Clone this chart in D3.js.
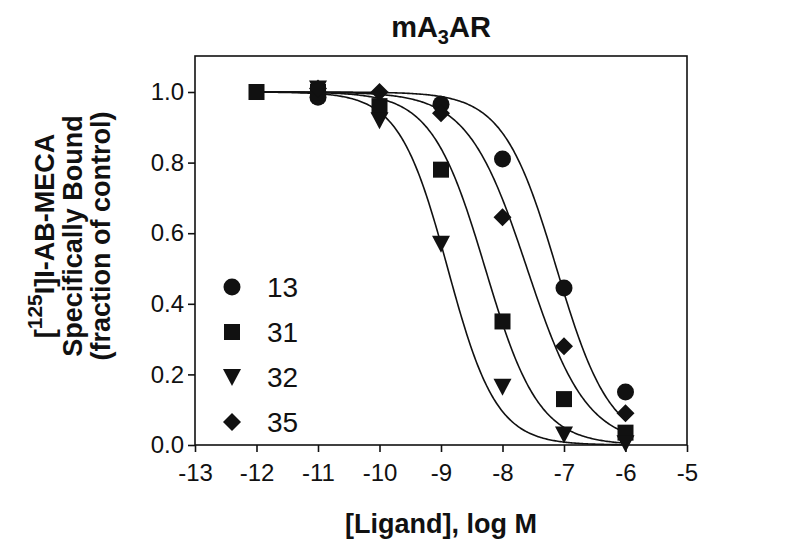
<!DOCTYPE html>
<html lang="en">
<head>
	<meta charset="UTF-8"/>
	<title>mA3AR binding</title>
	<script src="https://d3js.org/d3.v7.min.js"></script>
	<style>
		body { margin: 0; background: #fff; }
		svg text { font-family: "Liberation Sans", Arial, sans-serif; fill: #111; }
		.axis path, .axis line { stroke: #111; stroke-width: 1.6; }
		.axis text { font-size: 24px; }
	</style>
</head>
<body>
<script>
	// compounds in the legend
	var compounds = ["13", "31", "32", "35"];
	var shapeNames = ["circle", "square", "triangle", "diamond"];

	// x = log[ligand], y = fraction of control
	var logConc = [-12, -11, -10, -9, -8, -7, -6];
	var bound13 = [null, 0.985, null, 0.965, 0.81, 0.445, 0.15];
	var bound31 = [1.0, 1.0, 0.96, 0.78, 0.35, 0.13, 0.035];
	var bound32 = [null, 1.01, 0.92, 0.57, 0.165, 0.03, 0.005];
	var bound35 = [null, 1.01, 1.0, 0.94, 0.645, 0.28, 0.09];
	var allBound = [bound13, bound31, bound32, bound35];

	// fitted one-site curves (logIC50, hill slope)
	var logIC50 = [-7.12, -8.28, -8.89, -7.60];
	var hill = [1.0, 1.0, 1.1, 0.9];

	var xTicks = [-13, -12, -11, -10, -9, -8, -7, -6, -5];
	var yTicks = [0, 0.2, 0.4, 0.6, 0.8, 1.0];

	var w = 800, h = 550;
	var pLeft = 195, pRight = 687, pTop = 56, pBottom = 445;

	var svg = d3.select("body").append("svg").attr("width", w).attr("height", h);

	var xScale = d3.scaleLinear().domain([-13, -5]).range([pLeft, pRight]);
	var yScale = d3.scaleLinear().domain([0, 1.102]).range([pBottom, pTop]);

	// frame
	svg.append("rect")
		.attr("x", pLeft).attr("y", pTop)
		.attr("width", pRight - pLeft).attr("height", pBottom - pTop)
		.attr("fill", "none").attr("stroke", "#111").attr("stroke-width", 1.6);

	svg.append("g").attr("class", "axis")
		.attr("transform", "translate(0," + pBottom + ")")
		.call(d3.axisBottom(xScale).tickValues(xTicks).tickSize(7).tickPadding(12)
			.tickFormat(function(d){ return String(d); }))
		.select(".domain").remove();

	svg.append("g").attr("class", "axis")
		.attr("transform", "translate(" + pLeft + ",0)")
		.call(d3.axisLeft(yScale).tickValues(yTicks).tickSize(7).tickPadding(4).tickFormat(d3.format(".1f")))
		.select(".domain").remove();

	// curves
	var line = d3.line()
		.x(function(d){ return xScale(d[0]); })
		.y(function(d){ return yScale(d[1]); });

	compounds.forEach(function(c, i){
		var pts = d3.range(-12, -5.99, 0.02).map(function(x){
			return [x, 1 / (1 + Math.pow(10, hill[i] * (x - logIC50[i])))];
		});
		svg.append("path")
			.attr("d", line(pts))
			.attr("fill", "none")
			.attr("stroke", "#111")
			.attr("stroke-width", 1.6);
	});

	// marker drawing
	function marker(sel, name) {
		if (name === "circle") {
			sel.append("circle").attr("r", 8.5).attr("fill", "#111");
		} else if (name === "square") {
			sel.append("rect").attr("x", -8).attr("y", -8).attr("width", 16).attr("height", 16).attr("fill", "#111");
		} else if (name === "triangle") {
			sel.append("path").attr("d", "M-9,-8L9,-8L0,9Z").attr("fill", "#111");
		} else {
			sel.append("path").attr("d", "M0,-9L9,0L0,9L-9,0Z").attr("fill", "#111");
		}
	}

	// points
	compounds.forEach(function(c, i){
		var data = logConc.map(function(x, j){ return [x, allBound[i][j]]; })
			.filter(function(d){ return d[1] !== null; });
		svg.selectAll(".pt" + i).data(data).enter().append("g")
			.attr("class", "pt" + i)
			.attr("transform", function(d){
				return "translate(" + xScale(d[0]) + "," + yScale(d[1]) + ")";
			})
			.each(function(){ marker(d3.select(this), shapeNames[i]); });
	});

	// legend
	var legend = svg.append("g");
	compounds.forEach(function(c, i){
		var yy = 287 + i * 45;
		var g = legend.append("g").attr("transform", "translate(232," + yy + ")");
		marker(g, shapeNames[i]);
		legend.append("text")
			.attr("x", 267).attr("y", yy + 10)
			.attr("font-size", "28px")
			.text(c);
	});

	// title
	var title = svg.append("text")
		.attr("x", (pLeft + pRight) / 2).attr("y", 37)
		.attr("text-anchor", "middle")
		.attr("font-size", "29px").attr("font-weight", "bold");
	title.append("tspan").text("mA");
	title.append("tspan").attr("font-size", "20px").attr("dy", 7).text("3");
	title.append("tspan").attr("dy", -7).text("AR");

	// x label
	svg.append("text")
		.attr("x", (pLeft + pRight) / 2).attr("y", 533)
		.attr("text-anchor", "middle")
		.attr("font-size", "27px").attr("font-weight", "bold")
		.text("[Ligand], log M");

	// y label
	var yl = svg.append("g")
		.attr("transform", "translate(0,236) rotate(-90)");
	var l1 = yl.append("text").attr("x", 0).attr("y", 54)
		.attr("text-anchor", "middle").attr("font-size", "27px").attr("font-weight", "bold");
	l1.append("tspan").text("[");
	l1.append("tspan").attr("font-size", "21px").attr("dy", -12).text("125");
	l1.append("tspan").attr("dy", 12).text("I]I-AB-MECA");
	yl.append("text").attr("x", 0).attr("y", 82)
		.attr("text-anchor", "middle").attr("font-size", "27px").attr("font-weight", "bold")
		.text("Specifically Bound");
	yl.append("text").attr("x", 0).attr("y", 110)
		.attr("text-anchor", "middle").attr("font-size", "27px").attr("font-weight", "bold")
		.text("(fraction of control)");
</script>
</body>
</html>
